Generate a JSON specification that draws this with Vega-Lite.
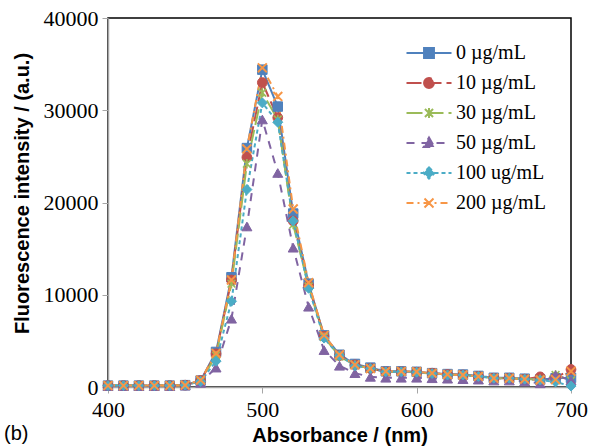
{
  "$schema": "https://vega.github.io/schema/vega-lite/v6.json",
  "width": 463,
  "height": 369,
  "autosize": {"type": "none"},
  "padding": {"left": 108, "top": 18, "right": 22, "bottom": 61},
  "background": "white",
  "config": {
    "view": {"stroke": "black", "strokeWidth": 1.5},
    "axis": {"grid": false, "labelFlush": false, "labelColor": "black", "titleColor": "black", "domainColor": "#a6a6a6", "domainWidth": 1.5, "tickColor": "#a6a6a6", "tickSize": 6, "tickWidth": 1}
  },
  "title": {"text": "(b)", "orient": "bottom", "anchor": "start", "frame": "bounds", "font": "Liberation Sans", "fontSize": 20, "fontWeight": "normal", "color": "black", "offset": -21, "dx": -8},
  "data": {"values": [
    {"nm":400,"series":"0 µg/mL","v":150},{"nm":410,"series":"0 µg/mL","v":150},{"nm":420,"series":"0 µg/mL","v":150},{"nm":430,"series":"0 µg/mL","v":150},{"nm":440,"series":"0 µg/mL","v":150},{"nm":450,"series":"0 µg/mL","v":200},{"nm":460,"series":"0 µg/mL","v":700},{"nm":470,"series":"0 µg/mL","v":3800},{"nm":480,"series":"0 µg/mL","v":11900},{"nm":490,"series":"0 µg/mL","v":25900},{"nm":500,"series":"0 µg/mL","v":34400},{"nm":510,"series":"0 µg/mL","v":30400},{"nm":520,"series":"0 µg/mL","v":18800},{"nm":530,"series":"0 µg/mL","v":11200},{"nm":540,"series":"0 µg/mL","v":5600},{"nm":550,"series":"0 µg/mL","v":3500},{"nm":560,"series":"0 µg/mL","v":2500},{"nm":570,"series":"0 µg/mL","v":2100},{"nm":580,"series":"0 µg/mL","v":1700},{"nm":590,"series":"0 µg/mL","v":1700},{"nm":600,"series":"0 µg/mL","v":1650},{"nm":610,"series":"0 µg/mL","v":1500},{"nm":620,"series":"0 µg/mL","v":1400},{"nm":630,"series":"0 µg/mL","v":1350},{"nm":640,"series":"0 µg/mL","v":1200},{"nm":650,"series":"0 µg/mL","v":1000},{"nm":660,"series":"0 µg/mL","v":1000},{"nm":670,"series":"0 µg/mL","v":900},{"nm":680,"series":"0 µg/mL","v":800},{"nm":690,"series":"0 µg/mL","v":950},{"nm":700,"series":"0 µg/mL","v":1000},
    {"nm":400,"series":"10 µg/mL","v":150},{"nm":410,"series":"10 µg/mL","v":150},{"nm":420,"series":"10 µg/mL","v":150},{"nm":430,"series":"10 µg/mL","v":150},{"nm":440,"series":"10 µg/mL","v":150},{"nm":450,"series":"10 µg/mL","v":200},{"nm":460,"series":"10 µg/mL","v":700},{"nm":470,"series":"10 µg/mL","v":3600},{"nm":480,"series":"10 µg/mL","v":11600},{"nm":490,"series":"10 µg/mL","v":24900},{"nm":500,"series":"10 µg/mL","v":33000},{"nm":510,"series":"10 µg/mL","v":29200},{"nm":520,"series":"10 µg/mL","v":18000},{"nm":530,"series":"10 µg/mL","v":11000},{"nm":540,"series":"10 µg/mL","v":5500},{"nm":550,"series":"10 µg/mL","v":3400},{"nm":560,"series":"10 µg/mL","v":2400},{"nm":570,"series":"10 µg/mL","v":2000},{"nm":580,"series":"10 µg/mL","v":1650},{"nm":590,"series":"10 µg/mL","v":1650},{"nm":600,"series":"10 µg/mL","v":1600},{"nm":610,"series":"10 µg/mL","v":1500},{"nm":620,"series":"10 µg/mL","v":1350},{"nm":630,"series":"10 µg/mL","v":1300},{"nm":640,"series":"10 µg/mL","v":1150},{"nm":650,"series":"10 µg/mL","v":950},{"nm":660,"series":"10 µg/mL","v":950},{"nm":670,"series":"10 µg/mL","v":850},{"nm":680,"series":"10 µg/mL","v":1100},{"nm":690,"series":"10 µg/mL","v":1000},{"nm":700,"series":"10 µg/mL","v":1900},
    {"nm":400,"series":"30 µg/mL","v":150},{"nm":410,"series":"30 µg/mL","v":150},{"nm":420,"series":"30 µg/mL","v":150},{"nm":430,"series":"30 µg/mL","v":150},{"nm":440,"series":"30 µg/mL","v":150},{"nm":450,"series":"30 µg/mL","v":200},{"nm":460,"series":"30 µg/mL","v":650},{"nm":470,"series":"30 µg/mL","v":3400},{"nm":480,"series":"30 µg/mL","v":11200},{"nm":490,"series":"30 µg/mL","v":24200},{"nm":500,"series":"30 µg/mL","v":31900},{"nm":510,"series":"30 µg/mL","v":29000},{"nm":520,"series":"30 µg/mL","v":17600},{"nm":530,"series":"30 µg/mL","v":10900},{"nm":540,"series":"30 µg/mL","v":5400},{"nm":550,"series":"30 µg/mL","v":3300},{"nm":560,"series":"30 µg/mL","v":2400},{"nm":570,"series":"30 µg/mL","v":2000},{"nm":580,"series":"30 µg/mL","v":1650},{"nm":590,"series":"30 µg/mL","v":1650},{"nm":600,"series":"30 µg/mL","v":1600},{"nm":610,"series":"30 µg/mL","v":1450},{"nm":620,"series":"30 µg/mL","v":1350},{"nm":630,"series":"30 µg/mL","v":1300},{"nm":640,"series":"30 µg/mL","v":1150},{"nm":650,"series":"30 µg/mL","v":950},{"nm":660,"series":"30 µg/mL","v":950},{"nm":670,"series":"30 µg/mL","v":850},{"nm":680,"series":"30 µg/mL","v":850},{"nm":690,"series":"30 µg/mL","v":1300},{"nm":700,"series":"30 µg/mL","v":700},
    {"nm":400,"series":"50 µg/mL","v":100},{"nm":410,"series":"50 µg/mL","v":100},{"nm":420,"series":"50 µg/mL","v":100},{"nm":430,"series":"50 µg/mL","v":100},{"nm":440,"series":"50 µg/mL","v":100},{"nm":450,"series":"50 µg/mL","v":150},{"nm":460,"series":"50 µg/mL","v":450},{"nm":470,"series":"50 µg/mL","v":2100},{"nm":480,"series":"50 µg/mL","v":7400},{"nm":490,"series":"50 µg/mL","v":17400},{"nm":500,"series":"50 µg/mL","v":29000},{"nm":510,"series":"50 µg/mL","v":23200},{"nm":520,"series":"50 µg/mL","v":15100},{"nm":530,"series":"50 µg/mL","v":8700},{"nm":540,"series":"50 µg/mL","v":4000},{"nm":550,"series":"50 µg/mL","v":2300},{"nm":560,"series":"50 µg/mL","v":1500},{"nm":570,"series":"50 µg/mL","v":1100},{"nm":580,"series":"50 µg/mL","v":1000},{"nm":590,"series":"50 µg/mL","v":1000},{"nm":600,"series":"50 µg/mL","v":1000},{"nm":610,"series":"50 µg/mL","v":950},{"nm":620,"series":"50 µg/mL","v":900},{"nm":630,"series":"50 µg/mL","v":850},{"nm":640,"series":"50 µg/mL","v":800},{"nm":650,"series":"50 µg/mL","v":700},{"nm":660,"series":"50 µg/mL","v":700},{"nm":670,"series":"50 µg/mL","v":600},{"nm":680,"series":"50 µg/mL","v":400},{"nm":690,"series":"50 µg/mL","v":1300},{"nm":700,"series":"50 µg/mL","v":700},
    {"nm":400,"series":"100 ug/mL","v":150},{"nm":410,"series":"100 ug/mL","v":150},{"nm":420,"series":"100 ug/mL","v":150},{"nm":430,"series":"100 ug/mL","v":150},{"nm":440,"series":"100 ug/mL","v":150},{"nm":450,"series":"100 ug/mL","v":200},{"nm":460,"series":"100 ug/mL","v":600},{"nm":470,"series":"100 ug/mL","v":2800},{"nm":480,"series":"100 ug/mL","v":9300},{"nm":490,"series":"100 ug/mL","v":21400},{"nm":500,"series":"100 ug/mL","v":30800},{"nm":510,"series":"100 ug/mL","v":28700},{"nm":520,"series":"100 ug/mL","v":18000},{"nm":530,"series":"100 ug/mL","v":10700},{"nm":540,"series":"100 ug/mL","v":5300},{"nm":550,"series":"100 ug/mL","v":3400},{"nm":560,"series":"100 ug/mL","v":2300},{"nm":570,"series":"100 ug/mL","v":2000},{"nm":580,"series":"100 ug/mL","v":1650},{"nm":590,"series":"100 ug/mL","v":1650},{"nm":600,"series":"100 ug/mL","v":1600},{"nm":610,"series":"100 ug/mL","v":1450},{"nm":620,"series":"100 ug/mL","v":1300},{"nm":630,"series":"100 ug/mL","v":1300},{"nm":640,"series":"100 ug/mL","v":1150},{"nm":650,"series":"100 ug/mL","v":950},{"nm":660,"series":"100 ug/mL","v":950},{"nm":670,"series":"100 ug/mL","v":850},{"nm":680,"series":"100 ug/mL","v":750},{"nm":690,"series":"100 ug/mL","v":550},{"nm":700,"series":"100 ug/mL","v":100},
    {"nm":400,"series":"200 µg/mL","v":150},{"nm":410,"series":"200 µg/mL","v":150},{"nm":420,"series":"200 µg/mL","v":150},{"nm":430,"series":"200 µg/mL","v":150},{"nm":440,"series":"200 µg/mL","v":150},{"nm":450,"series":"200 µg/mL","v":200},{"nm":460,"series":"200 µg/mL","v":750},{"nm":470,"series":"200 µg/mL","v":3650},{"nm":480,"series":"200 µg/mL","v":11600},{"nm":490,"series":"200 µg/mL","v":25800},{"nm":500,"series":"200 µg/mL","v":34600},{"nm":510,"series":"200 µg/mL","v":31500},{"nm":520,"series":"200 µg/mL","v":19300},{"nm":530,"series":"200 µg/mL","v":11300},{"nm":540,"series":"200 µg/mL","v":5600},{"nm":550,"series":"200 µg/mL","v":3500},{"nm":560,"series":"200 µg/mL","v":2400},{"nm":570,"series":"200 µg/mL","v":2000},{"nm":580,"series":"200 µg/mL","v":1700},{"nm":590,"series":"200 µg/mL","v":1700},{"nm":600,"series":"200 µg/mL","v":1650},{"nm":610,"series":"200 µg/mL","v":1500},{"nm":620,"series":"200 µg/mL","v":1350},{"nm":630,"series":"200 µg/mL","v":1300},{"nm":640,"series":"200 µg/mL","v":1150},{"nm":650,"series":"200 µg/mL","v":950},{"nm":660,"series":"200 µg/mL","v":950},{"nm":670,"series":"200 µg/mL","v":850},{"nm":680,"series":"200 µg/mL","v":750},{"nm":690,"series":"200 µg/mL","v":800},{"nm":700,"series":"200 µg/mL","v":1700}
  ]},
  "encoding": {
    "x": {"field": "nm", "type": "quantitative", "scale": {"domain": [400, 700], "nice": false}, "axis": {"values": [400, 500, 600, 700], "title": "Absorbance / (nm)", "labelPadding": 6, "titlePadding": 5, "labelFont": "Liberation Serif", "labelFontSize": 22, "titleFont": "Liberation Sans", "titleFontSize": 20, "titleFontWeight": "bold"}},
    "y": {"field": "v", "type": "quantitative", "scale": {"domain": [0, 40000], "nice": false}, "axis": {"values": [0, 10000, 20000, 30000, 40000], "format": "d", "title": "Fluorescence intensity / (a.u.)", "labelPadding": 4, "titlePadding": 11, "titleY": 175, "labelFont": "Liberation Serif", "labelFontSize": 22, "titleFont": "Liberation Sans", "titleFontSize": 20, "titleFontWeight": "bold"}}
  },
  "layer": [
    {
      "transform": [{"filter": "datum.nm < 0"}],
      "mark": {"type": "point", "filled": true, "size": 324, "opacity": 1},
      "encoding": {
        "color": {"field": "series", "type": "nominal", "legend": {"title": null, "orient": "none", "legendX": 311, "legendY": 25, "padding": 0, "symbolSize": 324, "symbolStrokeWidth": 2, "labelFont": "Liberation Serif", "labelFontSize": 20, "labelColor": "black", "labelOffset": 17, "rowPadding": 10, "labelLimit": 300}},
        "stroke": {"field": "series", "type": "nominal", "scale": {"domain": ["0 µg/mL", "10 µg/mL", "30 µg/mL", "50 µg/mL", "100 ug/mL", "200 µg/mL"], "range": ["#4F81BD", "#C0504D", "#9BBB59", "#8064A2", "#4BACC6", "#F79646"]}, "legend": {"title": null, "orient": "none", "legendX": 311, "legendY": 25}},
        "strokeDash": {"field": "series", "type": "nominal", "legend": {"title": null, "orient": "none", "legendX": 311, "legendY": 25}},
        "shape": {"field": "series", "type": "nominal", "scale": {"domain": ["0 µg/mL", "10 µg/mL", "30 µg/mL", "50 µg/mL", "100 ug/mL", "200 µg/mL"], "range": [
          "M-2.5,0H2.5M-0.55,-0.55H0.55V0.55H-0.55Z",
          "M-2.5,0H2.5M-0.55,0A0.55,0.55,0,1,0,0.55,0A0.55,0.55,0,1,0,-0.55,0Z",
          "M-2.5,0H2.5M0,0L0.45,0.45M0,0L-0.45,-0.45M0,0L-0.45,0.45M0,0L0.45,-0.45M0,0V0.55M0,0V-0.55",
          "M-2.5,0H2.5M0,-0.6L0.6,0.45H-0.6Z",
          "M-2.5,0H2.5M0,-0.62L0.62,0L0,0.62L-0.62,0Z",
          "M-2.5,0H2.5M0,0L0.5,0.5M0,0L-0.5,-0.5M0,0L-0.5,0.5M0,0L0.5,-0.5"
        ]}, "legend": {"title": null, "orient": "none", "legendX": 311, "legendY": 25}}
      }
    },
    {
      "mark": {"type": "line", "strokeWidth": 2},
      "encoding": {
        "color": {"field": "series", "type": "nominal", "scale": {"domain": ["0 µg/mL", "10 µg/mL", "30 µg/mL", "50 µg/mL", "100 ug/mL", "200 µg/mL"], "range": ["#4F81BD", "#C0504D", "#9BBB59", "#8064A2", "#4BACC6", "#F79646"]}},
        "strokeDash": {"field": "series", "type": "nominal", "scale": {"domain": ["0 µg/mL", "10 µg/mL", "30 µg/mL", "50 µg/mL", "100 ug/mL", "200 µg/mL"], "range": [[1, 0], [15, 5], [16, 5], [8, 7], [4, 3], [7, 4, 2, 4]]}}
      }
    },
    {"transform": [{"filter": "datum.series === '0 µg/mL'"}], "mark": {"type": "point", "shape": "square", "filled": true, "size": 90, "fill": "#4F81BD", "stroke": "#4F81BD", "strokeWidth": 1, "opacity": 1}},
    {"transform": [{"filter": "datum.series === '10 µg/mL'"}], "mark": {"type": "point", "shape": "circle", "filled": true, "size": 95, "fill": "#C0504D", "stroke": "#C0504D", "strokeWidth": 1, "opacity": 1}},
    {"transform": [{"filter": "datum.series === '30 µg/mL'"}], "mark": {"type": "point", "shape": "M-1,-1L1,1M-1,1L1,-1M0,-1.2L0,1.2", "filled": false, "size": 60, "stroke": "#9BBB59", "strokeWidth": 1.6, "opacity": 1}},
    {"transform": [{"filter": "datum.series === '50 µg/mL'"}], "mark": {"type": "point", "shape": "triangle-up", "filled": true, "size": 100, "fill": "#8064A2", "stroke": "#8064A2", "strokeWidth": 1, "opacity": 1}},
    {"transform": [{"filter": "datum.series === '100 ug/mL'"}], "mark": {"type": "point", "shape": "diamond", "filled": true, "size": 100, "fill": "#4BACC6", "stroke": "#4BACC6", "strokeWidth": 1, "opacity": 1}},
    {"transform": [{"filter": "datum.series === '200 µg/mL'"}], "mark": {"type": "point", "shape": "M-1,-1L1,1M-1,1L1,-1", "filled": false, "size": 80, "stroke": "#F79646", "strokeWidth": 2, "opacity": 1}}
  ]
}
